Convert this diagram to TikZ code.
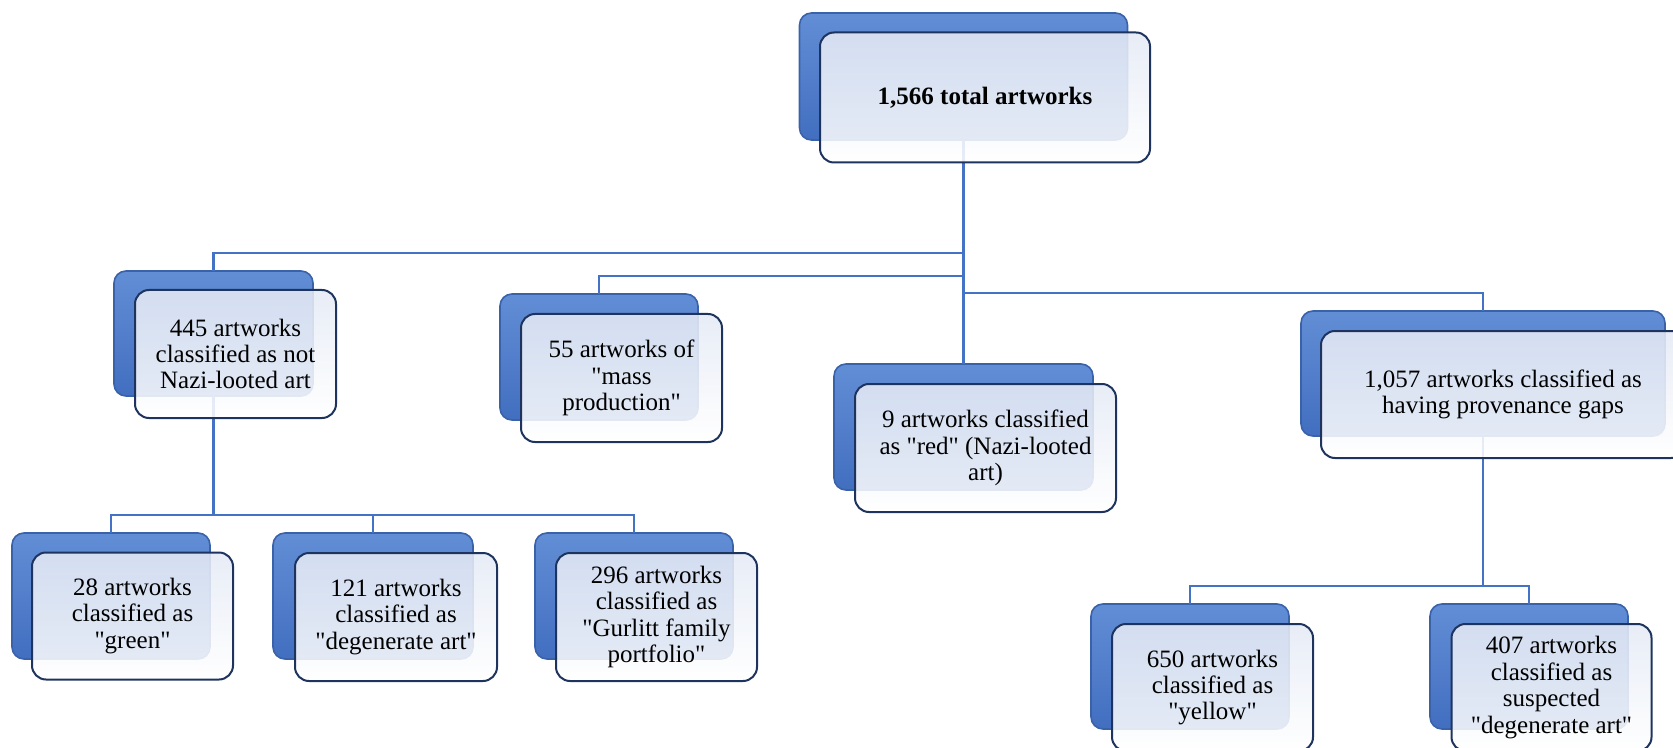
\documentclass[tikz,border=0pt]{standalone}
\usepackage{fontspec}
\setmainfont{Liberation Serif}[Ligatures=TeXOff]

\definecolor{backtop}{RGB}{98,142,214}
\definecolor{backbot}{RGB}{66,110,192}
\definecolor{backedge}{RGB}{58,98,168}
\definecolor{frontedge}{RGB}{30,52,94}
\definecolor{fronttop}{RGB}{228,234,245}
\definecolor{linkblue}{RGB}{68,114,196}

\begin{document}
\begin{tikzpicture}[x=0.5pt,y=-0.5pt,
  backbox/.style={draw=backedge,line width=0.8pt,rounded corners=6pt,
    top color=backtop,bottom color=backbot,inner sep=0pt,outer sep=0pt},
  frontbox/.style={draw=frontedge,line width=1pt,rounded corners=7pt,
    top color=fronttop,bottom color=white,fill opacity=0.88,text opacity=1,
    align=center,inner sep=0pt,outer sep=0pt,
    font=\fontsize{12.5pt}{13.2pt}\selectfont},
  link/.style={draw=linkblue,line width=1.1pt}]
  \useasboundingbox (0,0) rectangle (1673,748);
  \clip (0,0) rectangle (1673,748);

  % back boxes
  \node[backbox,minimum width=164pt,minimum height=63.5pt] (total-b) at (963.5,76.5) {};
  \node[backbox,minimum width=99.5pt,minimum height=62.5pt] (a445-b) at (213.5,333.5) {};
  \node[backbox,minimum width=99pt,minimum height=63pt] (a55-b) at (599,357) {};
  \node[backbox,minimum width=129.5pt,minimum height=63pt] (a9-b) at (963.5,427) {};
  \node[backbox,minimum width=182pt,minimum height=62.5pt] (a1057-b) at (1483,373.5) {};
  \node[backbox,minimum width=99pt,minimum height=63pt] (a28-b) at (111,596) {};
  \node[backbox,minimum width=100pt,minimum height=63pt] (a121-b) at (373,596) {};
  \node[backbox,minimum width=99pt,minimum height=63pt] (a296-b) at (634,596) {};
  \node[backbox,minimum width=99pt,minimum height=62.5pt] (a650-b) at (1190,666.5) {};
  \node[backbox,minimum width=99pt,minimum height=62.5pt] (a407-b) at (1529,666.5) {};

  % connectors
  \draw[link] (total-b.south) |- ([yshift=9pt]a445-b.north) -- (a445-b.north);
  \draw[link] (total-b.south) |- ([yshift=9pt]a55-b.north) -- (a55-b.north);
  \draw[link] (total-b.south) -- (a9-b.north);
  \draw[link] (total-b.south) |- ([yshift=9pt]a1057-b.north) -- (a1057-b.north);
  \draw[link] (a445-b.south) |- ([yshift=9pt]a28-b.north) -- (a28-b.north);
  \draw[link] (a445-b.south) |- ([yshift=9pt]a121-b.north) -- (a121-b.north);
  \draw[link] (a445-b.south) |- ([yshift=9pt]a296-b.north) -- (a296-b.north);
  \draw[link] (a1057-b.south) |- ([yshift=9pt]a650-b.north) -- (a650-b.north);
  \draw[link] (a1057-b.south) |- ([yshift=9pt]a407-b.north) -- (a407-b.north);

  % front boxes
  \node[frontbox,minimum width=165pt,minimum height=65pt,font=\fontsize{12.5pt}{13.2pt}\selectfont\bfseries] (total) at (985,97.5) {1,566 total artworks};
  \node[frontbox,minimum width=100.5pt,minimum height=64pt] (a445) at (235.5,354) {445 artworks\\classified as not\\Nazi-looted art};
  \node[frontbox,minimum width=100.5pt,minimum height=64pt] (a55) at (621.5,378) {55 artworks of\\"mass\\production"};
  \node[frontbox,minimum width=130.5pt,minimum height=64pt] (a9) at (985.5,448) {9 artworks classified\\as "red" (Nazi-looted\\art)};
  \node[frontbox,minimum width=182pt,minimum height=63.5pt] (a1057) at (1503,394.5) {1,057 artworks classified as\\having provenance gaps};
  \node[frontbox,minimum width=100.5pt,minimum height=63.5pt] (a28) at (132.5,616) {28 artworks\\classified as\\"green"};
  \node[frontbox,minimum width=101pt,minimum height=64pt] (a121) at (396,617) {121 artworks\\classified as\\"degenerate art"};
  \node[frontbox,minimum width=100.5pt,minimum height=64pt] (a296) at (656.5,617) {296 artworks\\classified as\\"Gurlitt family\\portfolio"};
  \node[frontbox,minimum width=100.5pt,minimum height=63.5pt] (a650) at (1212.5,687.5) {650 artworks\\classified as\\"yellow"};
  \node[frontbox,minimum width=100pt,minimum height=63.5pt] (a407) at (1551.5,687.5) {407 artworks\\classified as\\suspected\\"degenerate art"};
\end{tikzpicture}
\end{document}
